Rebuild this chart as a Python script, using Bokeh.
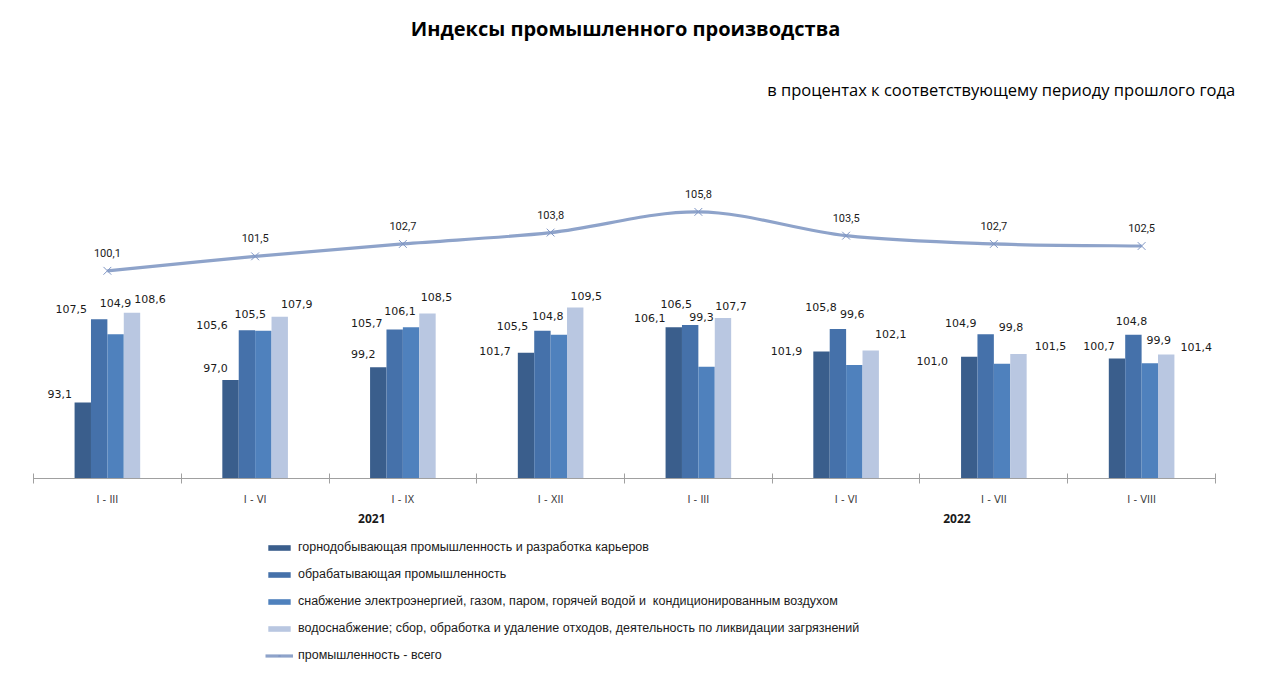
import numpy as np
from bokeh.plotting import figure
from bokeh.models import (ColumnDataSource, Range1d, FixedTicker, Legend, LegendItem,
                          Label, CustomJSTickFormatter)
from bokeh.core.properties import value
from bokeh.embed import file_html
from bokeh.resources import INLINE

# ---------------- data ----------------
periods = ["I - III", "I - VI", "I - IX", "I - XII", "I - III", "I - VI", "I - VII", "I - VIII"]
years = ["2021", "2022"]
mining = [93.1, 97.0, 99.2, 101.7, 106.1, 101.9, 101.0, 100.7]
manufacturing = [107.5, 105.6, 105.7, 105.5, 106.5, 105.8, 104.9, 104.8]
energy = [104.9, 105.5, 106.1, 104.8, 99.3, 99.6, 99.8, 99.9]
water = [108.6, 107.9, 108.5, 109.5, 107.7, 102.1, 101.5, 101.4]
total = [100.1, 101.5, 102.7, 103.8, 105.8, 103.5, 102.7, 102.5]

series_names = [
    "горнодобывающая промышленность и разработка карьеров",
    "обрабатывающая промышленность",
    "снабжение электроэнергией, газом, паром, горячей водой и  кондиционированным воздухом",
    "водоснабжение; сбор, обработка и удаление отходов, деятельность по ликвидации загрязнений",
]
total_name = "промышленность - всего"
title_text = "Индексы промышленного производства"
subtitle_text = "в процентах к соответствующему  периоду прошлого года"

# ---------------- styling ----------------
bar_colors = ["#3A5E8C", "#4571AA", "#4F81BD", "#B9C7E1"]
line_color = "#8EA3CA"
marker_color = "#7E95C4"
bar_w = 0.111
# label pixel offsets (per series, per group) relative to bar tops
label_dx = [[-23, -15, -15, -31, -24, -35, -37, -18],
            [-28, -35, -28, -30, -14, -17, -25, -2],
            [0, -13, -11, -11, -5, -2, 9, 9],
            [18, 17, 9, 11, 8, 20, 32, 30]]
label_dy = [[-9, -12, -13, -2, -9, -1, 4, -13],
            [-10, -5, -7, -5, -21, -22, -11, -14],
            [-31, -17, -16, -19, -50, -51, -37, -23],
            [-14, -13, -16, -12, -12, -16, -8, -8]]
NUM_FONT = value("DejaVu Sans")
LINE_FONT = value("Roboto")

# whole canvas is the frame; axis is pinned at the bars' base value
BASE = 80
Y_PRIMARY = (47.21, 162.5)
Y_TOTAL = (61.61, 126.26)
X_RANGE = (-0.2234, 8.413)


def fmt(v):
    return f"{v:.1f}".replace(".", ",")


p = figure(width=1276, height=668, x_range=Range1d(*X_RANGE), y_range=Range1d(*Y_PRIMARY),
           output_backend="svg", toolbar_location=None,
           min_border_left=0, min_border_right=0, min_border_top=0, min_border_bottom=0)
p.extra_y_ranges = {"total": Range1d(*Y_TOTAL)}
p.outline_line_color = None
p.xgrid.visible = False
p.ygrid.visible = False
p.yaxis.visible = False
p.background_fill_color = "white"
p.border_fill_color = "white"

xa = p.xaxis[0]
xa.fixed_location = BASE
xa.bounds = (0, len(periods))
xa.ticker = FixedTicker(ticks=[i + 0.5 for i in range(len(periods))],
                        minor_ticks=list(range(len(periods) + 1)))
xa.formatter = CustomJSTickFormatter(args=dict(labels=periods),
                                     code="return labels[Math.floor(tick)];")
xa.major_tick_line_color = None
xa.major_tick_in = 0
xa.major_tick_out = 5
xa.minor_tick_in = 5
xa.minor_tick_out = 5
xa.minor_tick_line_color = "#A0A0A0"
xa.axis_line_color = "#A0A0A0"
xa.axis_line_width = 1.2
xa.major_label_text_font = "DejaVu Sans"
xa.major_label_text_font_size = "10px"
xa.major_label_text_color = "#404040"
xa.major_label_standoff = 10

idx = np.arange(len(periods))
all_series = [mining, manufacturing, energy, water]
bar_renderers = []
for k, vals in enumerate(all_series):
    xs = idx + 0.5 + (k - 1.5) * bar_w
    src = ColumnDataSource(dict(x=xs, top=vals, lab=[fmt(v) for v in vals],
                                dx=label_dx[k], dy=label_dy[k]))
    r = p.vbar(x="x", top="top", bottom=BASE, width=bar_w, source=src,
               fill_color=bar_colors[k], line_color=None)
    bar_renderers.append(r)
    p.text(x="x", y="top", text="lab", source=src, x_offset="dx", y_offset="dy",
           text_align="center", text_baseline="middle", text_font=NUM_FONT,
           text_font_size="11px", text_color="#1A1A1A")

# smoothed total line (Catmull-Rom -> cubic Bezier)
tx = idx + 0.5
ty = np.array(total)
n = len(tx)
x0, y0, x1, y1, cx0, cy0, cx1, cy1 = ([] for _ in range(8))
for i in range(n - 1):
    pm = i - 1 if i > 0 else i
    pp = i + 2 if i + 2 < n else i + 1
    x0.append(tx[i]); y0.append(ty[i]); x1.append(tx[i + 1]); y1.append(ty[i + 1])
    cx0.append(tx[i] + (tx[i + 1] - tx[pm]) / 6); cy0.append(ty[i] + (ty[i + 1] - ty[pm]) / 6)
    cx1.append(tx[i + 1] - (tx[pp] - tx[i]) / 6); cy1.append(ty[i + 1] - (ty[pp] - ty[i]) / 6)
bez = p.bezier(x0=x0, y0=y0, x1=x1, y1=y1, cx0=cx0, cy0=cy0, cx1=cx1, cy1=cy1,
               line_color=line_color, line_width=3.2, y_range_name="total")
sc = p.scatter(x=tx, y=total, marker="x", size=11, line_color=marker_color, line_width=1,
               y_range_name="total")
p.text(x=tx, y=total, text=[fmt(v) for v in total], y_offset=-18, y_range_name="total",
       text_align="center", text_baseline="middle", text_font=LINE_FONT,
       text_font_size="11px", text_color="#1A1A1A")

# legend (inside the frame, below the axis)
items = [LegendItem(label=series_names[k], renderers=[bar_renderers[k]]) for k in range(4)]
items.append(LegendItem(label=total_name, renderers=[bez, sc]))
legend = Legend(items=items, location=(265, 6), orientation="vertical",
                glyph_width=28, glyph_height=7, label_height=14, spacing=13,
                padding=0, margin=0, border_line_color=None, background_fill_alpha=0,
                label_text_font="Liberation Sans", label_text_font_size="12.5px",
                label_text_color="#1A1A1A", label_standoff=5)
p.add_layout(legend)

# year labels under the period labels
for yr, xpos in zip(years, [2.29, 6.25]):
    p.add_layout(Label(x=xpos, y=73.1, text=yr, text_align="center", text_baseline="middle",
                       text_font="Open Sans", text_font_style="bold",
                       text_font_size="12px", text_color="#1A1A1A"))

# title and subtitle
p.add_layout(Label(x=4.007, y=157.6, text=title_text, text_align="center", text_baseline="middle",
                   text_font="Open Sans", text_font_style="bold",
                   text_font_size="20px", text_color="#000000"))
p.add_layout(Label(x=8.162, y=147.2, text=subtitle_text, text_align="right", text_baseline="middle",
                   text_font="Open Sans", text_font_size="16.5px", text_color="#000000"))

open("out.html", "w").write(file_html(p, INLINE))
